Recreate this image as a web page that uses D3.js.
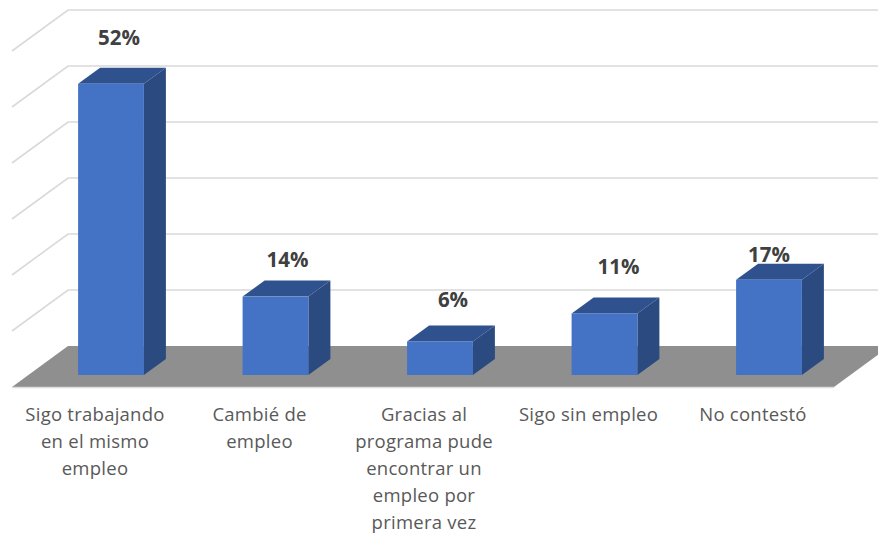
<!DOCTYPE html>
<html><head><meta charset="utf-8">
<script src="https://cdn.jsdelivr.net/npm/d3@7/dist/d3.min.js"></script>
<style>html,body{margin:0;padding:0;background:#fff}svg{display:block}</style>
</head><body><div id="c"></div>
<script>
const categories = ["Sigo trabajando en el mismo empleo","Cambié de empleo","Gracias al programa pude encontrar un empleo por primera vez","Sigo sin empleo","No contestó"];
const categoryLines = [["Sigo trabajando","en el mismo","empleo"],["Cambié de","empleo"],["Gracias al","programa pude","encontrar un","empleo por","primera vez"],["Sigo sin empleo"],["No contestó"]];
const values = [52,14,6,11,17];
const gridTicks = [0,10,20,30,40,50,60];
// manually placed data labels in the source: offset from the bar's front centre / top
const labelDx = [8,12,13,14,0];
const labelDy = [-46,-37,-41,-46,-25];

const W=878,H=535;
const svg=d3.select("#c").append("svg").attr("width",W).attr("height",H);
const x=d3.scaleBand().domain(categories).range([28.75,851.25]).paddingInner(0.6).paddingOuter(0.3);
const y=d3.scaleLinear().domain([0,60]).range([0,336]);
const backY=346, floorFrontY=387, floorL=12, floorR=834, depthX=56, depthY=41;
const barBase=375, barDX=22, barDY=16;
const line=d3.line();

// floor
svg.append("path").attr("d",line([[floorL,floorFrontY],[floorL+depthX,backY],[floorR+depthX,backY],[floorR,floorFrontY]])+"Z")
  .attr("fill","#8f8f8f");
svg.append("path").attr("d",line([[floorL,floorFrontY+.5],[floorR,floorFrontY+.5]])).attr("stroke","#dcdcdc").attr("stroke-width",1.5);

// gridlines
const g=svg.append("g").attr("fill","none").attr("stroke","#d9d9d9").attr("stroke-width",1.6);
gridTicks.filter(t=>t>0).forEach(t=>{
  const yb=backY-y(t);
  g.append("path").attr("d",line([[W,yb],[floorL+depthX,yb],[floorL,yb+depthY]]));
});

// bars
const bars=svg.append("g").selectAll("g").data(categories).join("g");
bars.each(function(c,i){
  const s=d3.select(this), l=x(c), r=l+x.bandwidth(), t=barBase-y(values[i]), b=barBase;
  s.append("path").attr("fill","#2f528f").attr("d",line([[l,t],[l+barDX,t-barDY],[r+barDX,t-barDY],[r,t]])+"Z");
  s.append("path").attr("fill","#2a4a80").attr("d",line([[r,t],[r+barDX,t-barDY],[r+barDX,b-barDY],[r,b]])+"Z");
  s.append("rect").attr("fill","#4472c4").attr("x",l).attr("y",t).attr("width",x.bandwidth()).attr("height",b-t);
  s.append("text").attr("x",l+x.bandwidth()/2+labelDx[i]).attr("y",t+labelDy[i]+7)
    .attr("text-anchor","middle").attr("font-family","'Open Sans',sans-serif").attr("font-weight",700)
    .attr("font-size",20.5).attr("fill","#404040").text(values[i]+"%");
});

// category labels
const labels=svg.append("g").attr("font-family","'Open Sans',sans-serif").attr("font-size",18.5).attr("letter-spacing",0.25).attr("fill","#595959").attr("text-anchor","middle");
categories.forEach((c,i)=>{
  const cx=x(c)+x.bandwidth()/2-16;
  const t=labels.append("text");
  categoryLines[i].forEach((ln,j)=>t.append("tspan").attr("x",cx).attr("y",421+j*27).text(ln));
});
</script></body></html>
